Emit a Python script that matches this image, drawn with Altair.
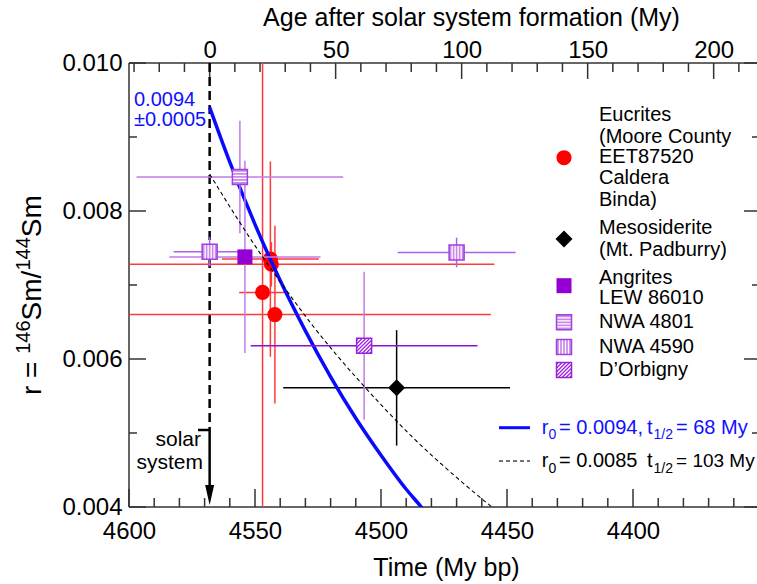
import altair as alt
import pandas as pd

F = "Liberation Sans"

# ---------------- data ----------------
euc_T = [4543.9, 4543.5, 4547.0, 4542.1]
euc_r = [0.00735, 0.00728, 0.00690, 0.00660]
euc_xe = [19.2, 88.5, 9.3, 85.7]
euc_ye = [0.00132, 0.00030, 0.00350, 0.00120]
mes_T = [4493.8]
mes_r = [0.00561]
mes_xe = [45.0]
mes_ye = [0.00078]
lew_T = [4554.0]
lew_r = [0.00738]
lew_xe = [30.0]
lew_ye = [0.00130]
n4801_T = [4556.0]
n4801_r = [0.00846]
n4801_xe = [41.0]
n4801_ye = [0.00076]
n4590_T = [4568.0, 4470.0]
n4590_r = [0.00745, 0.00744]
n4590_xe = [14.3, 23.4]
n4590_ye = [0.00020, 0.00020]
dorb_T = [4506.7]
dorb_r = [0.00618]
dorb_xe = [45.0]
dorb_ye = [0.00100]

fit_T = [4568, 4560, 4550, 4540, 4530, 4520, 4510, 4500, 4490, 4484, 4480]
fit_r = [0.00940, 0.00866, 0.00782, 0.00706, 0.00638, 0.00576, 0.00520, 0.00470, 0.00424, 0.00400, 0.00383]
alt_T = [4568, 4558, 4548, 4538, 4528, 4518, 4508, 4498, 4488, 4478, 4468, 4456, 4450]
alt_r = [0.00850, 0.00795, 0.00743, 0.00695, 0.00649, 0.00607, 0.00568, 0.00531, 0.00496, 0.00464, 0.00434, 0.00400, 0.00384]

x_labels = [4600, 4550, 4500, 4450, 4400]
top_labels = [0, 50, 100, 150, 200]
y_labels = [0.004, 0.006, 0.008, 0.010]
T_SOLAR = 4568

XD = [4600, 4350.8]
YD = [0.004, 0.010]
PW, PH = 628, 444
PX_PER_MY = 2.52
PX_PER_R = 74000.0


def px2T(px):
    return 4600 - (px - 129) / PX_PER_MY


def py2r(py):
    return 0.010 - (py - 63) / PX_PER_R


xs = alt.Scale(domain=XD, nice=False, zero=False)
ys = alt.Scale(domain=YD, nice=False, zero=False)
ages = alt.Scale(domain=[T_SOLAR - XD[0], T_SOLAR - XD[1]], nice=False, zero=False)

axX = alt.Axis(orient="bottom", values=x_labels, format="d", grid=False, ticks=False, tickSize=0,
               domain=False, labelFont=F, labelFontSize=24, labelColor="black", labelPadding=31,
               labelBaseline="alphabetic", labelFlush=False, labelOverlap=False,
               title="Time (My bp)", titleFont=F, titleFontSize=25, titleFontWeight="normal",
               titleColor="black", titleY=68, titleBaseline="alphabetic", titleX=317)
axY = alt.Axis(orient="left", values=y_labels, format=".3f", grid=False, ticks=False, tickSize=0,
               domain=False, labelFont=F, labelFontSize=24, labelColor="black", labelPadding=7,
               labelFlush=False, labelOverlap=False, title="")
axTop = alt.Axis(orient="top", values=top_labels, format="d", grid=False, ticks=False, tickSize=0,
                 domain=False, labelFont=F, labelFontSize=24, labelColor="black", labelPadding=6,
                 labelBaseline="alphabetic", labelFlush=False, labelOverlap=False,
                 title="Age after solar system formation (My)", titleFont=F, titleFontSize=25,
                 titleFontWeight="normal", titleColor="black", titleY=-38, titleX=342,
                 titleBaseline="alphabetic")


def X(f):
    return alt.X(f, type="quantitative", scale=xs, axis=axX)


def Y(f):
    return alt.Y(f, type="quantitative", scale=ys, axis=axY)


AX = "#333333"
AXW = 1.5

frame_v = alt.Chart(pd.DataFrame({"tx": [4600], "ya": [0.004], "yb": [0.010]})).mark_rule(
    color=AX, strokeWidth=AXW).encode(x=X("tx"), y=Y("ya"), y2=alt.Y2("yb"))
frame_h = alt.Chart(pd.DataFrame({"xa": [XD[0], XD[0]], "xb": [XD[1], XD[1]], "ty": [0.010, 0.004]})).mark_rule(
    color=AX, strokeWidth=AXW).encode(x=X("xa"), x2=alt.X2("xb"), y=Y("ty"))

bt = []
for t in range(4600, 4350, -10):
    L = 18 if t % 50 == 0 else 9
    bt.append((t, 0.004, 0.004 + L / PX_PER_R))
for a in range(-30, 220, 10):
    L = 16 if a % 50 == 0 else 9
    bt.append((T_SOLAR - a, 0.010, 0.010 - L / PX_PER_R))
ht = []
for k in range(4, 11):
    L = 17 if k % 2 == 0 else 8
    ht.append((4600.0, 4600 - L / PX_PER_MY, k / 1000))
    L2 = 13 if k % 2 == 0 else 5
    ht.append((XD[1], XD[1] + L2 / PX_PER_MY, k / 1000))
vt_df = pd.DataFrame(bt, columns=["tx", "ya", "yb"])
ht_df = pd.DataFrame(ht, columns=["xa", "xb", "ty"])
vticks = alt.Chart(vt_df).mark_rule(color=AX, strokeWidth=AXW).encode(
    x=X("tx"), y=Y("ya"), y2=alt.Y2("yb"))
hticks = alt.Chart(ht_df).mark_rule(color=AX, strokeWidth=AXW).encode(
    x=X("xa"), x2=alt.X2("xb"), y=Y("ty"))

r_br = py2r(430)
solar_dash = alt.Chart(pd.DataFrame({"t": [T_SOLAR], "a": [0.010], "b": [r_br]})).mark_rule(
    color="black", strokeWidth=2.5, strokeDash=[9, 5]).encode(x=X("t"), y=Y("a"), y2=alt.Y2("b"))
solar_solid = alt.Chart(pd.DataFrame({"t": [T_SOLAR], "a": [r_br], "b": [py2r(490)]})).mark_rule(
    color="black", strokeWidth=2.5).encode(x=X("t"), y=Y("a"), y2=alt.Y2("b"))
solar_br = alt.Chart(pd.DataFrame({"t": [px2T(198)], "t2": [T_SOLAR], "a": [r_br]})).mark_rule(
    color="black", strokeWidth=2.5).encode(x=X("t"), x2=alt.X2("t2"), y=Y("a"))
arrow = alt.Chart(pd.DataFrame({"t": [T_SOLAR], "a": [py2r(495)]})).mark_point(
    shape="M-0.45,-1L0.45,-1L0,1Z", size=400, filled=True, color="black", opacity=1).encode(
    x=X("t"), y=Y("a"))


def errbars(T, r, xe, ye, hcol, vcol, w=1.5):
    df = pd.DataFrame({"time": T, "r": r, "xe": xe, "ye": ye})
    df["xl"] = df["time"] - df["xe"]
    df["xh"] = df["time"] + df["xe"]
    df["yl"] = df["r"] - df["ye"]
    df["yh"] = df["r"] + df["ye"]
    h = alt.Chart(df).mark_rule(color=hcol, strokeWidth=w, clip=True).encode(
        x=X("xl"), x2=alt.X2("xh"), y=Y("r"))
    v = alt.Chart(df).mark_rule(color=vcol, strokeWidth=w, clip=True).encode(
        x=X("time"), y=Y("yl"), y2=alt.Y2("yh"))
    return [h, v]


RED = "#ff0000"
RED_E = "#ff3a3a"
PL = "#c27be8"
PD = "#9010d0"
PF = "#9400d3"
LX = px2T(564)


def ptdf(T, r, ly):
    return pd.DataFrame({"time": list(T) + [LX], "r": list(r) + [py2r(ly)]})


def sym(df, shape, size, color, filled=True, sw=1.0):
    if filled:
        m = alt.Chart(df).mark_point(shape=shape, size=size, filled=True, color=color, opacity=1,
                                     strokeWidth=0)
    else:
        m = alt.Chart(df).mark_point(shape=shape, size=size, filled=False, color=color, opacity=1,
                                     strokeWidth=sw)
    return m.encode(x=X("time"), y=Y("r"))


HSTR = "M-1,-0.6L1,-0.6M-1,-0.2L1,-0.2M-1,0.2L1,0.2M-1,0.6L1,0.6"
VSTR = "M-0.6,-1L-0.6,1M-0.2,-1L-0.2,1M0.2,-1L0.2,1M0.6,-1L0.6,1"
DSTR = ("M-1,-0.5L-0.5,-1M-1,0L0,-1M-1,0.5L0.5,-1M-1,1L1,-1M-0.5,1L1,-0.5M0,1L1,0M0.5,1L1,0.5")
SQ = 225


def hatched(df, base, path, outline):
    return [sym(df, "square", SQ, base),
            sym(df, path, SQ, "white", filled=False, sw=1.3),
            sym(df, "square", SQ, outline, filled=False, sw=1.5)]


euc_df = ptdf(euc_T, euc_r, 157.7)
mes_df = ptdf(mes_T, mes_r, 239)
lew_df = ptdf(lew_T, lew_r, 285.7)
n4801_df = ptdf(n4801_T, n4801_r, 322.3)
n4590_df = ptdf(n4590_T, n4590_r, 347)
dorb_df = ptdf(dorb_T, dorb_r, 370)

fit = alt.Chart(pd.DataFrame({"time": fit_T, "r": fit_r})).mark_line(
    color="#0a0aff", strokeWidth=3.5, clip=True, interpolate="monotone").encode(x=X("time"), y=Y("r"))
altc = alt.Chart(pd.DataFrame({"time": alt_T, "r": alt_r})).mark_line(
    color="black", strokeWidth=1.1, strokeDash=[4, 3], clip=True, interpolate="monotone").encode(
    x=X("time"), y=Y("r"))

leg_lines = pd.DataFrame({"xa": [px2T(499)], "xb": [px2T(530)], "y": [py2r(427.7)]})
leg_blue = alt.Chart(leg_lines).mark_rule(color="#0a0aff", strokeWidth=3).encode(
    x=X("xa"), x2=alt.X2("xb"), y=Y("y"))
leg_lines2 = pd.DataFrame({"xa": [px2T(499)], "xb": [px2T(530)], "y": [py2r(461)]})
leg_black = alt.Chart(leg_lines2).mark_rule(color="#444444", strokeWidth=1.3, strokeDash=[4, 3]).encode(
    x=X("xa"), x2=alt.X2("xb"), y=Y("y"))

BLUE = "#1010ff"
texts = []
for y, s in [(115, "Eucrites"), (136.7, "(Moore County"), (156.7, "EET87520"), (178, "Caldera"),
             (200, "Binda)"), (228, "Mesosiderite"), (250, "(Mt. Padburry)"), (278, "Angrites"),
             (298, "LEW 86010"), (321.7, "NWA 4801"), (346.7, "NWA 4590"), (370, "D\u2019Orbigny")]:
    texts.append((599, y, s, 20, "black", "left"))
for (yy, col, val, half, hs) in [(427.7, BLUE, "= 0.0094,", "= 68 My", 20),
                                  (461, "black", "= 0.0085", "= 103 My", 19)]:
    texts += [(541.7, yy, "r", 20, col, "left"), (548.5, yy + 7.5, "0", 14, col, "left"),
              (559, yy, val, 20, col, "left"), (647, yy, "t", 20, col, "left"),
              (653.5, yy + 7.5, "1/2", 14, col, "left"), (676, yy, half, hs, col, "left")]
texts += [(134, 100, "0.0094", 20, BLUE, "left"), (134, 120, "\u00b10.0005", 20, BLUE, "left")]
texts += [(201, 440, "solar", 21, "black", "right"), (203, 463, "system", 21, "black", "right")]
tdf = pd.DataFrame(texts, columns=["px", "py", "text", "fs", "col", "al"])
tdf["time"] = tdf["px"].map(px2T)
tdf["r"] = tdf["py"].map(py2r)
text_layers = []
for al in ["left", "right"]:
    sub = tdf[tdf["al"] == al]
    text_layers.append(alt.Chart(sub).mark_text(align=al, baseline="middle", font=F).encode(
        x=X("time"), y=Y("r"), text="text:N",
        size=alt.Size("fs:Q", scale=None), color=alt.Color("col:N", scale=None)))

W = {"r": 333, " ": 278, "=": 584, "S": 667, "m": 833, "/": 278, "1": 556, "4": 556, "6": 556}
pieces = [("r = ", 28, 41), ("146", 20, 30), ("Sm/", 28, 41), ("144", 20, 30), ("Sm", 28, 41)]
ytit = []
ypos = 395.0
for s, fs, bx in pieces:
    ytit.append((bx, ypos, s, fs))
    ypos -= sum(W[c] for c in s) * fs / 1000.0
yt_df = pd.DataFrame(ytit, columns=["px", "py", "text", "fs"])
yt_df["time"] = yt_df["px"].map(px2T)
yt_df["r"] = yt_df["py"].map(py2r)
ytitle = alt.Chart(yt_df).mark_text(align="left", baseline="alphabetic", angle=270, font=F,
                                    color="black").encode(
    x=X("time"), y=Y("r"), text="text:N", size=alt.Size("fs:Q", scale=None))

layers = [frame_v, frame_h, vticks, hticks, solar_dash, solar_br, solar_solid, arrow]
layers += errbars(euc_T, euc_r, euc_xe, euc_ye, RED_E, RED_E)
layers += [sym(euc_df, "circle", 227, RED)]
layers += errbars(mes_T, mes_r, mes_xe, mes_ye, "black", "black")
layers += [sym(mes_df, "diamond", 289, "black")]
layers += [fit]
layers += errbars(n4801_T, n4801_r, n4801_xe, n4801_ye, PL, PL)
layers += errbars(lew_T, lew_r, lew_xe, lew_ye, PL, PL)
layers += errbars(n4590_T, n4590_r, n4590_xe, n4590_ye, "#b060e0", "#b060e0")
layers += errbars(dorb_T, dorb_r, dorb_xe, dorb_ye, PD, PL)
layers += [sym(lew_df, "square", SQ, PF)]
layers += hatched(n4801_df, "#c88ae8", HSTR, "#a040e0")
layers += hatched(n4590_df, "#c88ae8", VSTR, "#a040e0")
layers += hatched(dorb_df, "#9a20dd", DSTR, "#9a20dd")
layers += [altc, leg_blue, leg_black, ytitle] + text_layers

inner = alt.layer(*layers)

top = alt.Chart(pd.DataFrame({"v": [100], "w": [0.007]})).mark_point(opacity=0, size=1).encode(
    x=alt.X("v:Q", scale=ages, axis=axTop), y=alt.Y("w:Q", scale=ys, axis=axY))

chart = alt.layer(inner, top).resolve_scale(x="independent").properties(
    width=PW, height=PH,
    autosize=alt.AutoSizeParams(type="none"),
    padding={"left": 129, "top": 63, "right": 0, "bottom": 77},
).configure(font=F).configure_view(stroke=None)

chart.save("out.html", embed_options={"renderer": "svg", "actions": False})
